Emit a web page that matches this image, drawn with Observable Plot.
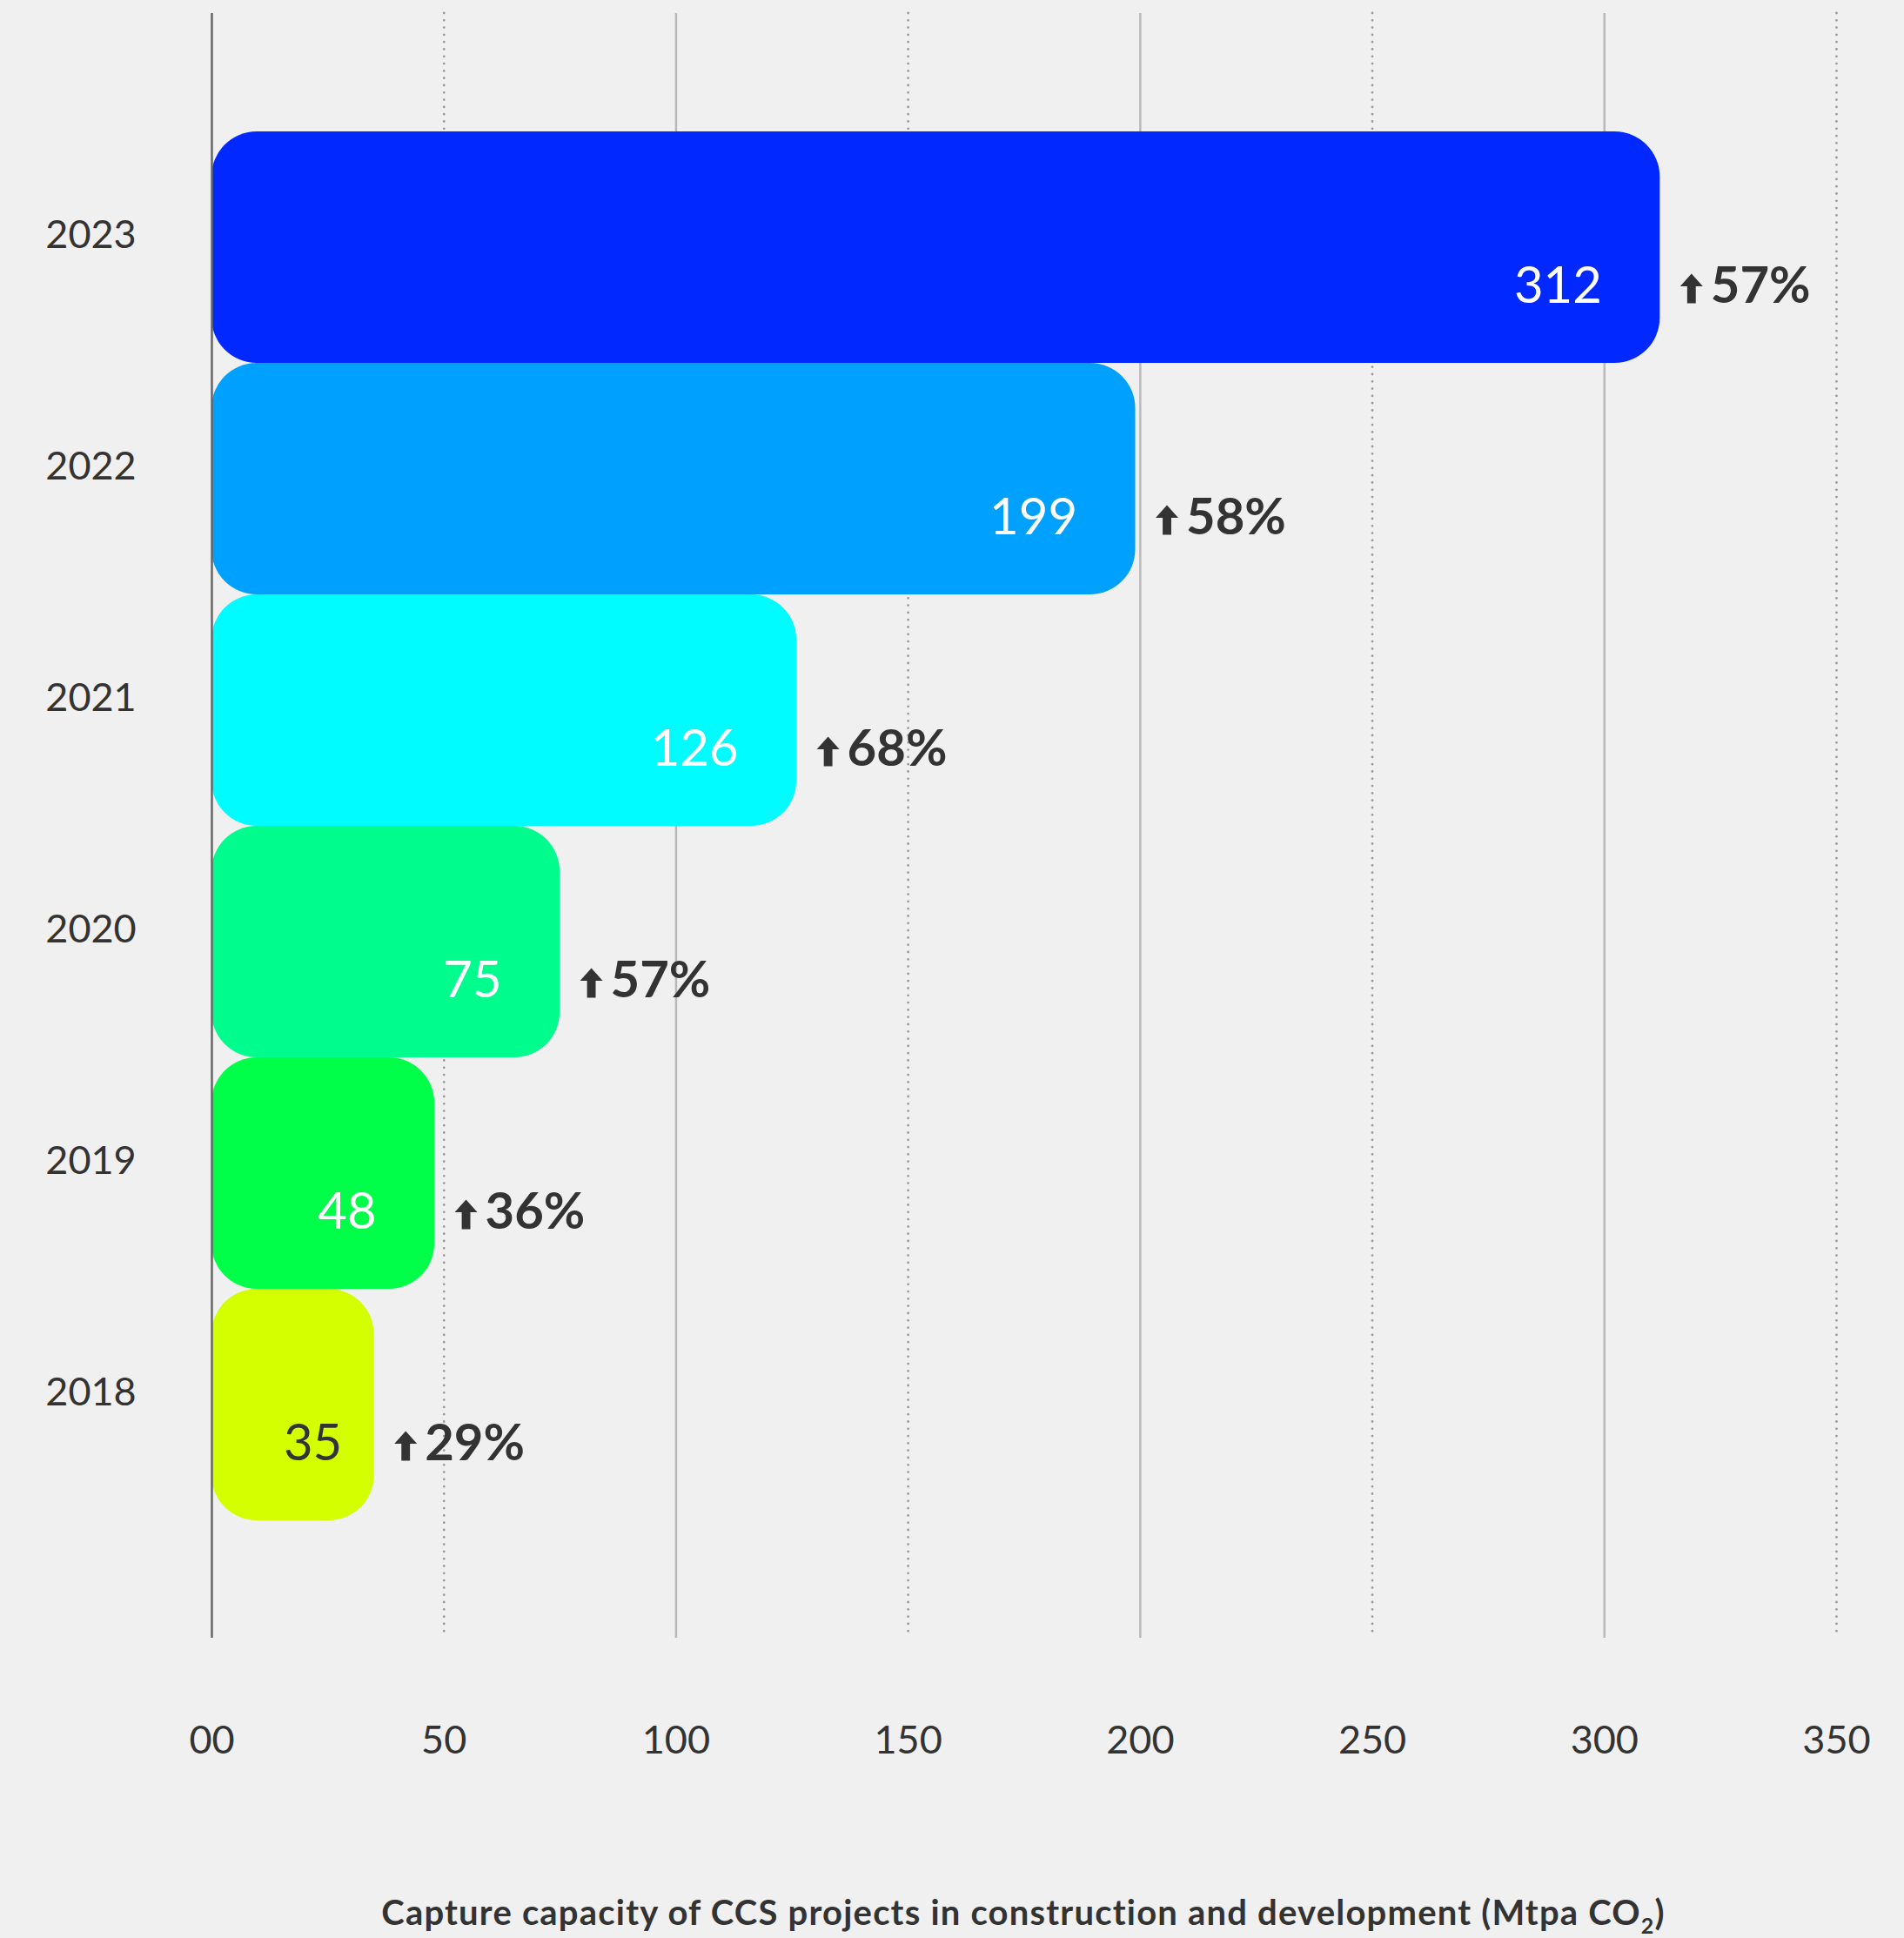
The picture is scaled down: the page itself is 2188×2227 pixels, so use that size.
<!DOCTYPE html>
<html>
<head>
<meta charset="utf-8">
<script src="https://cdn.jsdelivr.net/npm/d3@7"></script>
<script src="https://cdn.jsdelivr.net/npm/@observablehq/plot@0.6"></script>
<style>
  html, body { margin: 0; padding: 0; background: #f0f0f0; }
  body { position: relative; width: 2188px; height: 2227px; overflow: hidden; font-family: Lato, "Open Sans", sans-serif; }
  #chart svg { display: block; }
  #caption {
    position: absolute; left: 0; top: 2178px; width: 2188px; box-sizing: border-box;
    padding-left: 164px; text-align: center; font: 700 40px Lato, sans-serif; line-height: 38px; color: #333;
    letter-spacing: 1.2px;
  }
  #caption sub { font-size: 25px; line-height: 0; vertical-align: -10px; }
</style>
</head>
<body>
<div id="chart"></div>
<div id="caption">Capture capacity of CCS projects in construction and development (Mtpa CO<sub>2</sub>)</div>
<script>
// ---- data ----
const years = ["2023", "2022", "2021", "2020", "2019", "2018"];
const capacity = [312, 199, 126, 75, 48, 35];
const growth = ["57%", "58%", "68%", "57%", "36%", "29%"];
const xTicks = [0, 50, 100, 150, 200, 250, 300, 350];
const xTickLabels = ["00", "50", "100", "150", "200", "250", "300", "350"];

// ---- styling ----
const barColors = ["#0028ff", "#00a0ff", "#00fcff", "#00fc8c", "#00ff48", "#d4ff00"];
const valueTextColors = ["#ffffff", "#ffffff", "#ffffff", "#ffffff", "#ffffff", "#333333"];

const data = years.map((y, i) => ({year: y, value: capacity[i], growth: growth[i], valueColor: valueTextColors[i]}));

// up-arrow symbol
const arrow = {
  draw(ctx, size) {
    const r = Math.sqrt(size / Math.PI);
    ctx.moveTo(0, -1.3 * r);
    ctx.lineTo(r, -0.2 * r);
    ctx.lineTo(0.38 * r, -0.2 * r);
    ctx.lineTo(0.38 * r, 1.3 * r);
    ctx.lineTo(-0.38 * r, 1.3 * r);
    ctx.lineTo(-0.38 * r, -0.2 * r);
    ctx.lineTo(-r, -0.2 * r);
    ctx.closePath();
  }
};

const font = "Lato, 'Open Sans', sans-serif";
const valueStyle = {x: "value", y: "year", text: d => String(d.value), textAnchor: "end", dy: 45, fontSize: 58, fill: "valueColor"};

const chart = Plot.plot({
  width: 2188,
  height: 2150,
  marginLeft: 243,
  marginRight: 78,
  marginTop: 15,
  marginBottom: 268,
  style: {background: "#f0f0f0", fontFamily: font, color: "#333"},
  x: {domain: [0, 350], axis: null, label: null},
  y: {domain: years, paddingInner: 0, paddingOuter: 0.5, axis: null, label: null},
  color: {domain: years, range: barColors},
  marks: [
    Plot.ruleX([100, 200, 300], {stroke: "#b9b9b9", strokeWidth: 2.5}),
    Plot.ruleX([50, 150, 250, 350], {stroke: "#9a9a9a", strokeWidth: 2.8, strokeDasharray: "0,8.3", strokeLinecap: "round"}),
    Plot.barX(data, {x: "value", y: "year", fill: "year", rx: 52, ry: 52}),
    Plot.ruleX([0], {stroke: "#666", strokeWidth: 2.5}),
    Plot.axisX(xTicks, {tickSize: 0, tickPadding: 101, tickFormat: (d, i) => xTickLabels[i], fontSize: 45, fill: "#333", label: null}),
    Plot.text(data, {y: "year", text: "year", frameAnchor: "left", dx: -139, dy: -14, textAnchor: "middle", fontSize: 45, fill: "#333"}),
    Plot.text(data, {...valueStyle, filter: d => d.value >= 40, dx: -67}),
    Plot.text(data, {...valueStyle, filter: d => d.value < 40, dx: -37}),
    Plot.dot(data, {x: "value", y: "year", symbol: arrow, r: 13, dx: 36, dy: 47, fill: "#333", stroke: "none"}),
    Plot.text(data, {x: "value", y: "year", text: "growth", textAnchor: "start", dx: 58, dy: 45, fontSize: 58, fontWeight: 700, fill: "#333"})
  ]
});

document.getElementById("chart").append(chart);
</script>
</body>
</html>
